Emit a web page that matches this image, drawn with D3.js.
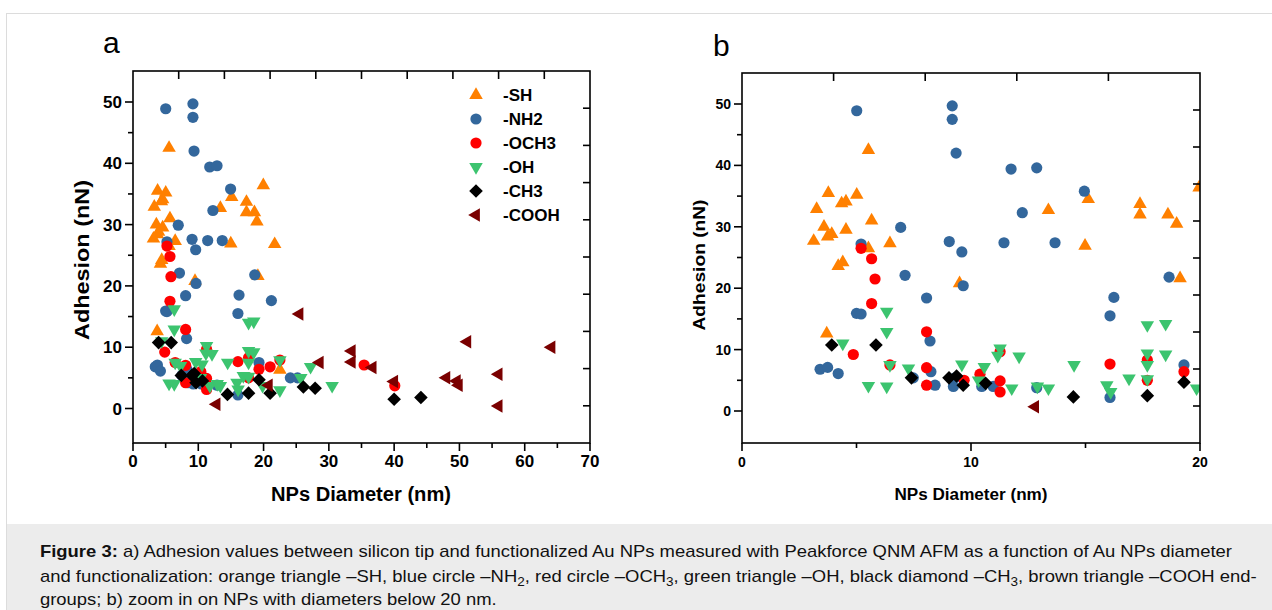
<!DOCTYPE html>
<html><head><meta charset="utf-8">
<script src="https://cdn.jsdelivr.net/npm/d3@7"></script>
<style>body{margin:0;background:#fff}svg{display:block}</style>
</head><body>
<svg id="chart" width="1272" height="610"></svg>
<script>
// ---- data ----
const seriesNames = ["-SH", "-NH2", "-OCH3", "-OH", "-CH3", "-COOH"];
const shX = [3.13,3.26,3.77,3.58,3.92,3.74,4.35,4.54,4.54,5.01,5.52,5.66,5.52,6.46,4.2,4.4,3.7,9.5,13.38,15.12,17.38,17.38,18.6,18.98,14.98,19.96,19.13,21.7,22.5];
const shY = [27.7,32.9,35.5,30.0,28.8,28.4,33.8,34.1,29.5,35.2,42.5,31.0,26.5,27.3,23.6,24.2,12.6,20.8,32.7,34.5,33.7,32.0,32.0,30.5,26.9,36.4,21.6,26.8,6.3];
const nh2X = [5.01,9.18,9.18,9.35,6.93,5.2,9.05,9.6,11.75,12.87,14.95,12.24,11.44,13.67,3.41,3.74,4.2,5.0,5.2,7.12,8.06,8.21,7.48,8.25,8.43,9.23,9.66,16.07,16.24,18.65,10.47,10.97,12.87,16.07,19.3,9.3,21.2,24.1,25.2];
const nh2Y = [48.9,49.7,47.5,42.0,29.9,27.2,27.6,25.9,39.4,39.6,35.8,32.3,27.4,27.4,6.8,7.1,6.1,15.9,15.8,22.1,18.4,11.4,5.4,6.4,4.2,4.0,20.4,15.5,18.5,21.8,4.0,4.0,3.8,2.2,7.5,5.4,17.6,5.0,5.0];
const och3X = [5.2,5.66,5.81,5.66,8.06,4.86,6.46,8.06,8.06,11.27,10.39,11.27,11.27,16.07,17.7,17.7,19.3,9.7,21.0,22.5,35.4,40.1];
const och3Y = [26.5,24.8,21.5,17.5,12.9,9.2,7.5,7.05,4.2,9.66,6.0,4.9,3.1,7.65,8.3,5.0,6.4,5.0,6.8,7.9,7.1,3.7];
const ohX = [6.32,6.32,4.4,5.52,6.32,6.46,7.27,9.6,10.58,10.33,11.27,11.17,12.1,11.78,12.9,13.38,14.5,15.93,16.1,16.9,17.7,18.5,17.7,17.7,17.7,18.5,19.85,22.5,22.5,25.7,27.2,30.5];
const ohY = [16.2,12.9,11.0,4.1,4.0,7.5,6.95,7.6,7.2,5.0,10.2,9.0,8.9,3.7,4.0,3.7,7.5,4.2,3.1,5.3,14.0,14.2,9.4,7.5,5.2,9.2,3.7,7.9,3.0,5.0,6.8,3.7];
const ch3X = [3.92,5.85,7.4,9.04,9.37,9.66,10.64,14.47,17.7,19.3,21.0,26.1,27.9,40.0,44.1];
const ch3Y = [10.75,10.75,5.4,5.4,5.7,4.2,4.5,2.3,2.5,4.7,2.5,3.5,3.3,1.5,1.8];
const coohX = [12.8,20.8,25.5,28.6,33.5,33.5,36.7,40.0,48.0,49.6,49.9,51.2,56.0,56.0,64.1];
const coohY = [0.7,3.8,15.4,7.5,9.4,7.6,6.7,4.4,5.0,4.5,3.8,10.9,5.6,0.4,10.0];
const yTicks = [0,10,20,30,40,50];
const xTicksA = [0,10,20,30,40,50,60,70];
const xTicksB = [0,10,20];

// ---- styles ----
const series = [
  {name: seriesNames[0], xs: shX,   ys: shY,   shape: "up",      color: "#FF8000"},
  {name: seriesNames[1], xs: nh2X,  ys: nh2Y,  shape: "circle",  color: "#33679C"},
  {name: seriesNames[2], xs: och3X, ys: och3Y, shape: "circle",  color: "#FF0000"},
  {name: seriesNames[3], xs: ohX,   ys: ohY,   shape: "down",    color: "#3CC46F"},
  {name: seriesNames[4], xs: ch3X,  ys: ch3Y,  shape: "diamond", color: "#000000"},
  {name: seriesNames[5], xs: coohX, ys: coohY, shape: "left",    color: "#7A0000"}
];

function shapePath(shape) {
  const s = 13.5, h = s * 0.866, d = 6.8, r = 5.6;
  switch (shape) {
    case "up": return `M0,${-h*2/3}L${s/2},${h/3}L${-s/2},${h/3}Z`;
    case "down": return `M0,${h*2/3}L${s/2},${-h/3}L${-s/2},${-h/3}Z`;
    case "left": return `M${-h*2/3},0L${h/3},${-s/2}L${h/3},${s/2}Z`;
    case "diamond": return `M0,${-d}L${d},0L0,${d}L${-d},0Z`;
    default: return d3.symbol(d3.symbolCircle, Math.PI*r*r)();
  }
}

const svg = d3.select("#chart");
const FONT = "'Liberation Sans', Arial, Helvetica, sans-serif";

// figure frame and caption
svg.append("rect").attr("x",0).attr("y",0).attr("width",1272).attr("height",610).attr("fill","#fff");
svg.append("rect").attr("x",6.5).attr("y",13.5).attr("width",1270).attr("height",610).attr("fill","#fff").attr("stroke","#dcdcdc");
svg.append("rect").attr("x",7).attr("y",524).attr("width",1270).attr("height",90).attr("fill","#ececec");

const defs = svg.append("defs");

function panel(cfg) {
  const x = d3.scaleLinear().domain(cfg.xDomain).range([cfg.left, cfg.right]);
  const y = d3.scaleLinear().domain([0, 50]).range([cfg.y0, cfg.y50]);
  const g = svg.append("g");
  const clipId = "clip" + cfg.id;
  defs.append("clipPath").attr("id", clipId).append("rect")
    .attr("x", cfg.left).attr("y", cfg.top).attr("width", cfg.right - cfg.left).attr("height", cfg.bottom - cfg.top);

  const pts = g.append("g").attr("clip-path", `url(#${clipId})`);
  series.forEach(s => {
    const data = s.xs.map((v, i) => ({x: v, y: s.ys[i]}));
    pts.append("g").selectAll("path").data(data).join("path")
      .attr("transform", d => `translate(${x(d.x)},${y(d.y)})`)
      .attr("d", shapePath(s.shape))
      .attr("fill", s.color);
  });

  const ax = g.append("g").attr("stroke", "#000").attr("stroke-width", 1.6).attr("fill", "none");
  ax.append("rect").attr("x", cfg.left).attr("y", cfg.top).attr("width", cfg.right - cfg.left).attr("height", cfg.bottom - cfg.top);

  const xMinor = d3.range(cfg.xDomain[0] + cfg.xMinorStep, cfg.xDomain[1], cfg.xMinorStep).filter(v => !cfg.xTicks.includes(v));
  cfg.xTicks.forEach(v => ax.append("line").attr("x1", x(v)).attr("x2", x(v)).attr("y1", cfg.bottom).attr("y2", cfg.bottom + 8));
  xMinor.forEach(v => ax.append("line").attr("x1", x(v)).attr("x2", x(v)).attr("y1", cfg.bottom).attr("y2", cfg.bottom + 5));
  yTicks.forEach(v => ax.append("line").attr("x1", cfg.left - 8).attr("x2", cfg.left).attr("y1", y(v)).attr("y2", y(v)));
  d3.range(5, 50, 10).forEach(v => ax.append("line").attr("x1", cfg.left - 5).attr("x2", cfg.left).attr("y1", y(v)).attr("y2", y(v)));
  const tx = d3.scaleLinear().domain([0, cfg.topN]).range([cfg.left, cfg.right]);
  d3.range(1, cfg.topN).forEach(i => ax.append("line").attr("x1", tx(i)).attr("x2", tx(i)).attr("y1", cfg.top).attr("y2", cfg.top + 8));
  const ry = d3.scaleLinear().domain([0, 10]).range([cfg.bottom, cfg.top]);
  d3.range(1, 10).forEach(i => ax.append("line").attr("x1", cfg.right - 7).attr("x2", cfg.right).attr("y1", ry(i)).attr("y2", ry(i)));

  const tl = g.append("g").attr("font-family", FONT).attr("font-weight", "bold").attr("font-size", cfg.tickFont).attr("fill", "#000");
  cfg.xTicks.forEach(v => tl.append("text").attr("x", x(v)).attr("y", cfg.bottom + cfg.xLabOff).attr("text-anchor", "middle").text(v));
  yTicks.forEach(v => tl.append("text").attr("x", cfg.left - 11).attr("y", y(v)).attr("dy", "0.36em").attr("text-anchor", "end").text(v));

  g.append("text").attr("x", cfg.xTitleX).attr("y", cfg.xTitleY).attr("text-anchor", "middle")
    .attr("font-family", FONT).attr("font-weight", "bold").attr("font-size", cfg.titleFont)
    .attr("textLength", cfg.xTitleLen).attr("lengthAdjust", "spacingAndGlyphs").text("NPs Diameter (nm)");
  g.append("text").attr("transform", `translate(${cfg.yTitleX},${cfg.yTitleC}) rotate(-90)`).attr("text-anchor", "middle")
    .attr("font-family", FONT).attr("font-weight", "bold").attr("font-size", cfg.titleFont)
    .attr("textLength", cfg.yTitleLen).attr("lengthAdjust", "spacingAndGlyphs").text("Adhesion (nN)");
  g.append("text").attr("x", cfg.letterX).attr("y", cfg.letterY).attr("font-family", FONT).attr("font-size", 30).text(cfg.letter);
  return {x, y, g};
}

panel({id: "a", xDomain: [0, 70], left: 133, right: 590, top: 71, bottom: 443, y0: 408.5, y50: 102,
  xTicks: xTicksA, xMinorStep: 5, topN: 10, tickFont: 17, xLabOff: 24, titleFont: 20,
  xTitleX: 361, xTitleY: 501, xTitleLen: 180, yTitleX: 89, yTitleC: 260, yTitleLen: 160,
  letter: "a", letterX: 103, letterY: 53});
panel({id: "b", xDomain: [0, 20], left: 742, right: 1200, top: 73, bottom: 443, y0: 411, y50: 104,
  xTicks: xTicksB, xMinorStep: 5, topN: 5, tickFont: 14, xLabOff: 24, titleFont: 16,
  xTitleX: 971, xTitleY: 500, xTitleLen: 153, yTitleX: 705, yTitleC: 265, yTitleLen: 131,
  letter: "b", letterX: 713, letterY: 56});

// legend (panel a)
const leg = svg.append("g").attr("font-family", FONT).attr("font-weight", "bold").attr("font-size", 17);
series.forEach((s, i) => {
  const yy = 95 + i * 24;
  leg.append("path").attr("transform", `translate(476,${yy})`).attr("d", shapePath(s.shape)).attr("fill", s.color);
  leg.append("text").attr("x", 503).attr("y", yy).attr("dy", "0.36em").text(s.name);
});

// caption: three lines, one common horizontal scale so line 1 spans the reference width
const capG = svg.append("g").attr("font-family", FONT).attr("font-size", 17).attr("fill", "#111");
const c1 = capG.append("text").attr("x", 40).attr("y", 557);
c1.append("tspan").attr("font-weight", "bold").text("Figure 3:");
c1.append("tspan").text(" a) Adhesion values between silicon tip and functionalized Au NPs measured with Peakforce QNM AFM as a function of Au NPs diameter");

const l2parts = [["and functionalization: orange triangle \u2013SH, blue circle \u2013NH",0],["2",1],[", red circle \u2013OCH",0],["3",1],[", green triangle \u2013OH, black diamond \u2013CH",0],["3",1],[", brown triangle \u2013COOH end-",0]];
const c2 = capG.append("text").attr("x", 40).attr("y", 582);
l2parts.forEach((p, i) => {
  const ts = c2.append("tspan").text(p[0]);
  if (p[1]) ts.attr("dy", 4).attr("font-size", 12.5);
  else if (i > 0) ts.attr("dy", -4);
});
capG.append("text").attr("x", 40).attr("y", 605).text("groups; b) zoom in on NPs with diameters below 20 nm.");
const k = 1193 / c1.node().getComputedTextLength();
capG.attr("transform", `translate(40,0) scale(${k},1) translate(-40,0)`);
</script>
</body></html>
